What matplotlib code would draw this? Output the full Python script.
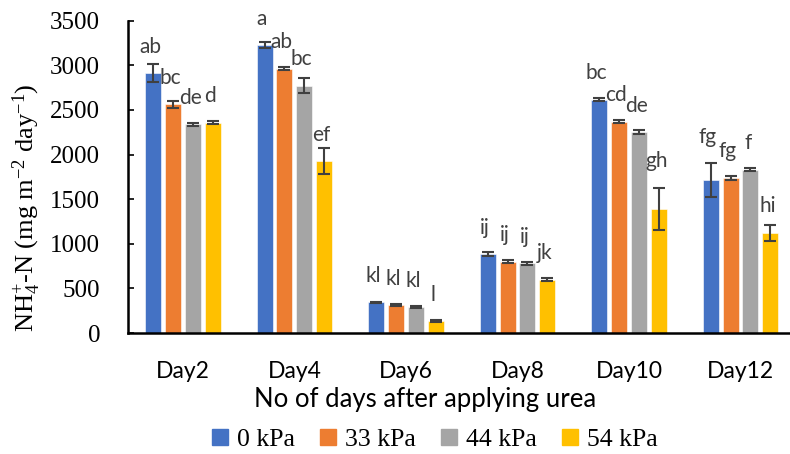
import matplotlib
matplotlib.use("Agg")
import matplotlib.pyplot as plt
import numpy as np
from matplotlib.patches import Patch

plt.rcParams['mathtext.fontset'] = 'custom'
plt.rcParams['mathtext.rm'] = 'Liberation Serif'
plt.rcParams['mathtext.it'] = 'Liberation Serif:italic'
plt.rcParams['mathtext.default'] = 'rm'

categories = ["Day2", "Day4", "Day6", "Day8", "Day10", "Day12"]
series_names = ["0 kPa", "33 kPa", "44 kPa", "54 kPa"]
colors = ["#4472C4", "#ED7D31", "#A5A5A5", "#FFC000"]

v_0 = [2915, 3227, 343, 883, 2616, 1714]
v_33 = [2564, 2963, 310, 801, 2367, 1740]
v_44 = [2337, 2773, 287, 779, 2251, 1830]
v_54 = [2356, 1927, 134, 596, 1394, 1122]

e_0 = [100, 35, 10, 25, 20, 190]
e_33 = [40, 15, 10, 15, 15, 20]
e_44 = [20, 85, 10, 15, 25, 20]
e_54 = [15, 150, 12, 15, 235, 90]

l_0 = ["ab", "a", "kl", "ij", "bc", "fg"]
l_33 = ["bc", "ab", "kl", "ij", "cd", "fg"]
l_44 = ["de", "bc", "kl", "ij", "de", "f"]
l_54 = ["d", "ef", "l", "jk", "gh", "hi"]

values = [v_0, v_33, v_44, v_54]
errors = [e_0, e_33, e_44, e_54]
letters = [l_0, l_33, l_44, l_54]

fig = plt.figure(figsize=(7.9, 4.54), dpi=100)
ax = fig.add_axes([128/790, 121/454, 662/790, 312.3/454])

x = np.arange(len(categories))
pitch = 0.179
width = 0.1435
for i in range(4):
    xs = x + (i - 1.5) * pitch
    ax.bar(xs, values[i], width, color=colors[i], edgecolor='white', linewidth=0.4, zorder=2)
    ax.errorbar(xs, values[i], yerr=errors[i], fmt='none', ecolor='#404040',
                elinewidth=1.5, capsize=4.5, capthick=1.5, zorder=3)
    for j in range(len(categories)):
        base = values[i][j] + (errors[i][j] if errors[i][j] > 180 else 0)
        ax.annotate(letters[i][j], (xs[j], base), xytext=(-2, 19), textcoords='offset points',
                    ha='center', va='center', fontsize=15, family='Lato', color='#404040')

ax.set_xlim(-0.493, 5.444)
ax.set_ylim(0, 3500)
ax.set_yticks(np.arange(0, 3501, 500))
ax.set_xticks(x)
ax.set_xticklabels(categories, family='Lato', fontsize=16.5)
for lab in ax.get_yticklabels():
    lab.set_family('Liberation Serif')
    lab.set_fontsize(18)
ax.tick_params(axis='y', direction='in', length=4, width=1.2, pad=20)
ax.tick_params(axis='x', length=0, pad=20)
for s in ['top', 'right']:
    ax.spines[s].set_visible(False)
ax.spines['left'].set_linewidth(1.8)
ax.spines['bottom'].set_linewidth(1.8)

fig.text(425/790, 1 - 400/454, "No of days after applying urea", ha='center', va='center',
         family='Lato', fontsize=18.5)
fig.text(27/790, 1 - 208/454, r"NH$_4^{+}$-N (mg m$^{-2}$ day$^{-1}$)", rotation=90,
         ha='center', va='center', family='Liberation Serif', fontsize=19)

handles = [Patch(color=c) for c in colors]
fig.legend(handles, series_names, loc='center', bbox_to_anchor=(435/790, 1 - 440/454), ncol=4,
           frameon=False, prop={'family': 'Liberation Serif', 'size': 18.5},
           handlelength=0.6, handleheight=0.6, handletextpad=0.35, columnspacing=1.0,
           borderpad=0, borderaxespad=0)

fig.savefig("out.png", dpi=100)
